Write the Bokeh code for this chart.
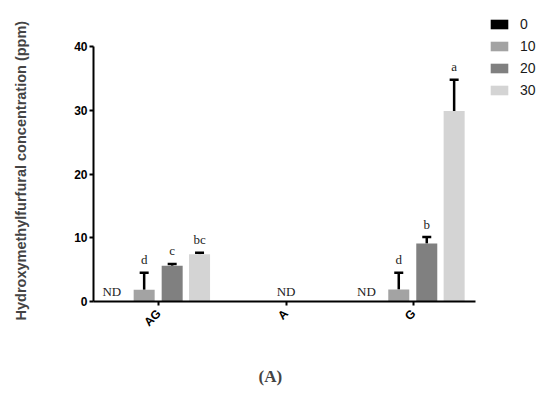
import math
from bokeh.plotting import figure
from bokeh.models import (ColumnDataSource, Range1d, Whisker, TeeHead,
                          Legend, LegendItem, FixedTicker, Title)
from bokeh.core.properties import value
from bokeh.embed import file_html
from bokeh.resources import INLINE

# ---- data ----
groups = ["AG", "A", "G"]
levels = ["0", "10", "20", "30"]
mean_0 = [0.0, 0.0, 0.0]
mean_10 = [1.85, 0.0, 1.9]
mean_20 = [5.6, 0.0, 9.1]
mean_30 = [7.4, 0.0, 29.9]
err_0 = [0.0, 0.0, 0.0]
err_10 = [2.65, 0.0, 2.6]
err_20 = [0.3, 0.0, 1.0]
err_30 = [0.25, 0.0, 4.9]
letters_0 = ["ND", "", "ND"]
letters_10 = ["d", "", "d"]
letters_20 = ["c", "", "b"]
letters_30 = ["bc", "", "a"]
center_label_groups = ["A"]
center_labels = ["ND"]
y_ticks = [0, 10, 20, 30, 40]
y_label = "Hydroxymethylfurfural concentration (ppm)"
caption = "(A)"

means = [mean_0, mean_10, mean_20, mean_30]
errs = [err_0, err_10, err_20, err_30]
letters = [letters_0, letters_10, letters_20, letters_30]
colors = ["#000000", "#a3a3a3", "#808080", "#d4d4d4"]
offsets = [-0.33, -0.115, 0.105, 0.32]
bar_w = 0.165

gpos = list(range(len(groups)))
gidx = {g: i for i, g in enumerate(groups)}

x_start = -0.513
px_per_unit = 127.3
frame_w = 447
frame_h = 291
y_top = 40 * frame_h / 255.0

p = figure(x_range=Range1d(x_start, x_start + frame_w / px_per_unit),
           y_range=Range1d(0, y_top),
           width=545, height=394, output_backend="svg", toolbar_location=None,
           min_border_left=93, min_border_right=5, min_border_top=10,
           min_border_bottom=93)
p.xgrid.visible = False
p.ygrid.visible = False
p.outline_line_color = None
p.background_fill_color = "white"

items = []
for lv, m, e, lt, c, off in zip(levels, means, errs, letters, colors, offsets):
    xs = [i + off for i in gpos]
    src = ColumnDataSource(dict(x=xs, m=m))
    r = p.vbar(x="x", top="m", width=bar_w, source=src, fill_color=c, line_color=None)
    items.append(LegendItem(label=lv, renderers=[r]))
    sel = [k for k, ee in enumerate(e) if ee > 0]
    if sel:
        wsrc = ColumnDataSource(dict(x=[xs[k] for k in sel], lower=[m[k] for k in sel],
                                     upper=[m[k] + e[k] for k in sel]))
        w = Whisker(base="x", lower="lower", upper="upper",
                    source=wsrc, dimension="height", line_width=2.5, line_color="black",
                    upper_head=TeeHead(size=9, line_width=2.5, line_color="black"),
                    lower_head=None)
        p.add_layout(w)
    sel = [k for k, t in enumerate(lt) if t]
    tsrc = ColumnDataSource(dict(x=[xs[k] for k in sel], y=[m[k] + e[k] for k in sel],
                                 t=[lt[k] for k in sel]))
    p.text(x="x", y="y", text="t", source=tsrc,
           text_font=value("Liberation Serif"), text_font_size="13px",
           text_align="center", text_baseline="alphabetic",
           x_offset=-5 if lv == "0" else 0, y_offset=-10 if lv == "0" else -13,
           text_color="#222222")

csrc = ColumnDataSource(dict(x=[gidx[g] for g in center_label_groups],
                             y=[0] * len(center_label_groups), t=center_labels))
p.text(x="x", y="y", text="t", source=csrc, text_font=value("Liberation Serif"),
       text_font_size="13px", text_align="center", text_baseline="alphabetic",
       y_offset=-10, text_color="#222222")

for ax in (p.xaxis[0], p.yaxis[0]):
    ax.axis_line_width = 2
    ax.axis_line_color = "black"
    ax.major_tick_line_width = 2
    ax.major_tick_line_color = "black"
    ax.major_tick_in = 0
    ax.major_tick_out = 4
    ax.minor_tick_line_color = None
    ax.major_label_text_font = "Liberation Sans"
    ax.major_label_text_font_style = "bold"
    ax.major_label_text_font_size = "12px"
    ax.major_label_text_color = "black"

p.yaxis.ticker = FixedTicker(ticks=y_ticks)
p.yaxis.bounds = (0, 40)
p.yaxis.major_label_standoff = 2

p.xaxis.ticker = FixedTicker(ticks=gpos)
p.xaxis.major_label_overrides = {i: g for i, g in enumerate(groups)}
p.xaxis.bounds = (x_start, x_start + 382 / px_per_unit)
p.xaxis.major_label_orientation = math.pi / 4
p.xaxis.major_label_standoff = 6

legend = Legend(items=items, location=(395, 203), glyph_width=22, glyph_height=12,
                label_height=12, spacing=6, label_standoff=10, padding=0, margin=0,
                border_line_color=None, background_fill_alpha=0,
                label_text_font="Liberation Sans", label_text_font_size="14px",
                label_text_color="#1a1a1a")
p.add_layout(legend)

# blank spacers (white on white) between the axes and the outer texts
p.add_layout(Title(text=".", text_font_size="10px", standoff=32, text_color="white"), "left")
ylab = Title(text=y_label, align="left", offset=-19, standoff=0, vertical_align="middle",
             text_font="Liberation Sans", text_font_size="14.5px", text_font_style="bold")
p.add_layout(ylab, "left")

p.add_layout(Title(text=".", text_font_size="10px", standoff=18, text_color="white"), "below")
t = Title(text=caption, align="left", offset=165, standoff=0, vertical_align="middle",
          text_font="Liberation Serif", text_font_size="17px", text_font_style="bold")
p.add_layout(t, "below")

open("out.html", "w").write(file_html(p, INLINE))
